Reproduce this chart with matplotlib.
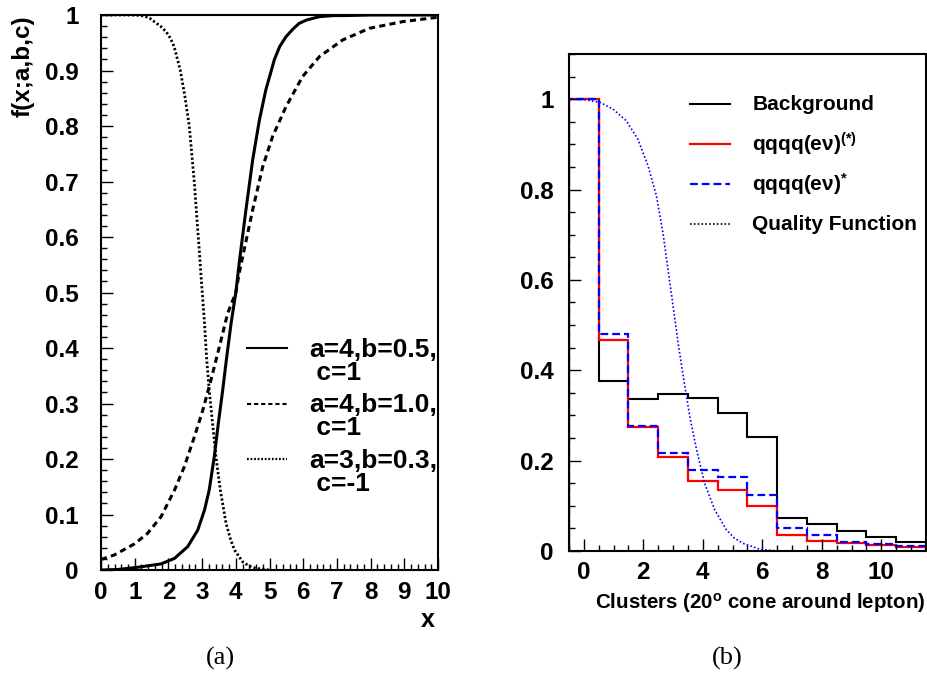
import numpy as np
import matplotlib
matplotlib.use("Agg")
import matplotlib.pyplot as plt
from matplotlib.ticker import MultipleLocator, FuncFormatter

plt.rcParams['font.family'] = ['Liberation Sans', 'DejaVu Sans']
plt.rcParams['font.weight'] = 'bold'
plt.rcParams['mathtext.default'] = 'regular'

# ---- panel (a): f(x;a,b,c) curves ----
x_solid = [0.0, 0.5, 1.09, 1.78, 2.18, 2.57, 2.87, 3.07, 3.21, 3.36, 3.48, 3.61,
           3.73, 3.86, 4.0, 4.10, 4.30, 4.50, 4.70, 4.89, 5.03, 5.14, 5.30, 5.49,
           5.70, 5.88, 6.10, 6.48, 6.9, 7.26, 8.0, 10.0]
y_solid = [0.0, 0.001, 0.005, 0.011, 0.021, 0.042, 0.072, 0.108, 0.144, 0.204,
           0.264, 0.324, 0.384, 0.445, 0.5, 0.553, 0.649, 0.739, 0.811, 0.865,
           0.895, 0.919, 0.943, 0.961, 0.975, 0.985, 0.991, 0.997, 0.999, 0.999,
           1.0, 1.0]

x_dashed = [0.0, 0.39, 0.99, 1.38, 1.78, 2.18, 2.47, 2.77, 3.02, 3.26, 3.51, 3.76,
            4.0, 4.10, 4.50, 4.80, 5.09, 5.49, 5.98, 6.48, 7.17, 7.96, 8.95, 10.0]
y_dashed = [0.019, 0.027, 0.047, 0.066, 0.096, 0.144, 0.186, 0.240, 0.288, 0.342,
            0.402, 0.463, 0.5, 0.535, 0.649, 0.727, 0.781, 0.835, 0.889, 0.925,
            0.955, 0.976, 0.988, 0.996]

x_dotted = [0.0, 0.8, 1.1, 1.28, 1.45, 1.58, 1.76, 1.93, 2.06, 2.17, 2.35, 2.49,
            2.62, 2.70, 2.77, 2.84, 2.90, 2.97, 3.07, 3.13, 3.21, 3.31, 3.41,
            3.54, 3.71, 3.84, 3.96, 4.20, 4.4, 4.6, 5.0]
y_dotted = [1.0, 1.0, 0.9995, 0.998, 0.994, 0.988, 0.980, 0.970, 0.958, 0.943,
            0.901, 0.853, 0.799, 0.745, 0.697, 0.637, 0.589, 0.528, 0.445, 0.384,
            0.324, 0.264, 0.204, 0.144, 0.084, 0.056, 0.036, 0.015, 0.007, 0.003,
            0.0]

labels_a = [("a=4,b=0.5,", " c=1"), ("a=4,b=1.0,", " c=1"), ("a=3,b=0.3,", " c=-1")]

# ---- panel (b): cluster histograms ----
clusters = np.arange(12)
background = [1.0, 0.377, 0.337, 0.347, 0.339, 0.305, 0.253, 0.072, 0.060, 0.044,
              0.030, 0.021]
qqqq_star_paren = [1.0, 0.466, 0.275, 0.208, 0.154, 0.135, 0.100, 0.035, 0.023,
                   0.018, 0.013, 0.009]
qqqq_star = [1.0, 0.481, 0.277, 0.217, 0.180, 0.164, 0.124, 0.050, 0.036, 0.021,
             0.016, 0.011]

x_quality = [-0.5, 0.0, 0.54, 0.98, 1.43, 1.82, 2.16, 2.44, 2.66, 2.83, 3.00, 3.17,
             3.36, 3.56, 3.79, 4.06, 4.40, 4.79, 5.05, 5.35, 5.91, 6.5, 7.0]
y_quality = [1.0, 0.999, 0.993, 0.978, 0.952, 0.911, 0.852, 0.786, 0.704, 0.623,
             0.542, 0.460, 0.379, 0.298, 0.224, 0.150, 0.091, 0.047, 0.029, 0.017,
             0.004, 0.0, 0.0]

labels_b = ["Background", "qqqq(e\u03bd)$^{(*)}$", "qqqq(e\u03bd)$^{*}$",
            "Quality Function"]

fig = plt.figure(figsize=(9.27, 6.79), dpi=100)
ax1 = fig.add_axes([0.109, 0.1605, 0.3635, 0.8174])
ax2 = fig.add_axes([0.6138, 0.1885, 0.385, 0.732])

TICK_FS = 17.5

# panel (a)
ls_solid = '-'
ls_dashed = (0, (2.0, 1.4))
ls_dotted = (0, (0.8, 0.8))
ax1.plot(x_solid, y_solid, color='black', lw=2.2, ls=ls_solid)
ax1.plot(x_dashed, y_dashed, color='black', lw=2.2, ls=ls_dashed)
ax1.plot(x_dotted, y_dotted, color='black', lw=2.0, ls=ls_dotted)
ax1.set_xlim(0, 10)
ax1.set_ylim(0, 1)
ax1.xaxis.set_major_locator(MultipleLocator(1))
ax1.xaxis.set_minor_locator(MultipleLocator(0.2))
ax1.yaxis.set_major_locator(MultipleLocator(0.1))
ax1.yaxis.set_minor_locator(MultipleLocator(0.02))

# legend for (a), handle aligned with first label line
for i, ((l1, l2), ls) in enumerate(zip(labels_a, [ls_solid, ls_dashed, ls_dotted])):
    yy = 0.40 - i * 0.10
    ax1.plot([0.433, 0.552], [yy, yy], transform=ax1.transAxes, color='black',
             lw=1.5 if ls != ls_dotted else 1.6, ls=ls, clip_on=False)
    ax1.text(0.618, yy - 0.003, l1, transform=ax1.transAxes, fontsize=19,
             va='center', ha='left')
    ax1.text(0.618, yy - 0.045, l2, transform=ax1.transAxes, fontsize=19,
             va='center', ha='left')

ax1.text(0.99, -0.09, "x", transform=ax1.transAxes, fontsize=18, ha='right',
         va='center')
ax1.text(-0.232, 1.0, "f(x;a,b,c)", transform=ax1.transAxes, fontsize=17.5,
         rotation=90, ha='center', va='top')

# panel (b)
edges = np.append(clusters - 0.5, clusters[-1] + 0.5)
ax2.stairs(background, edges, baseline=0, color='black', lw=1.5)
ax2.stairs(qqqq_star_paren, edges, baseline=0, color='#ff0000', lw=1.6)
ax2.stairs(qqqq_star, edges, baseline=0, color='#0000ff', lw=1.6,
           ls=(0, (3.5, 1.8)))
ax2.plot(x_quality, y_quality, color='#0000ff', lw=1.2, ls=(0, (1, 1.3)))
ax2.set_xlim(-0.5, 11.5)
ax2.set_ylim(0, 1.1)
ax2.xaxis.set_major_locator(MultipleLocator(2))
ax2.xaxis.set_minor_locator(MultipleLocator(0.5))
ax2.yaxis.set_major_locator(MultipleLocator(0.2))
ax2.yaxis.set_minor_locator(MultipleLocator(0.05))

leg_styles = [dict(color='black', lw=1.5, ls='-'),
              dict(color='#ff0000', lw=1.6, ls='-'),
              dict(color='#0000ff', lw=1.6, ls=(0, (3.5, 1.8))),
              dict(color='black', lw=1.2, ls=(0, (1, 1.3)))]
for i, (lab, st) in enumerate(zip(labels_b, leg_styles)):
    yy = 0.899 - i * 0.0805
    ax2.plot([0.339, 0.451], [yy, yy], transform=ax2.transAxes, clip_on=False,
             **st)
    ax2.text(0.514, yy, lab, transform=ax2.transAxes, fontsize=15,
             va='center', ha='left')

ax2.text(1.0, -0.105, "Clusters (20$^{o}$ cone around lepton)",
         transform=ax2.transAxes, fontsize=14.8, ha='right', va='center')

fmt = FuncFormatter(lambda v, _: f"{v:g}")
for ax in (ax1, ax2):
    for sp in ax.spines.values():
        sp.set_linewidth(1.5)
    ax.tick_params(which='major', direction='in', length=8.6, width=1.0,
                   labelsize=TICK_FS, top=False, right=False)
    ax.tick_params(which='minor', direction='in', length=4.3, width=1.0,
                   top=False, right=False)
    ax.yaxis.set_major_formatter(fmt)
    ax.xaxis.set_major_formatter(fmt)
ax1.tick_params(axis='y', which='major', pad=16)
ax1.tick_params(axis='x', which='major', pad=8)
ax2.tick_params(axis='y', which='major', pad=11)
ax2.tick_params(axis='x', which='major', pad=7)

fig.text(220 / 927, 1 - 658 / 679, "(a)", family='Liberation Serif',
         weight='normal', fontsize=19, ha='center', va='center')
fig.text(727 / 927, 1 - 658 / 679, "(b)", family='Liberation Serif',
         weight='normal', fontsize=19, ha='center', va='center')

fig.savefig("out.png", dpi=100)
